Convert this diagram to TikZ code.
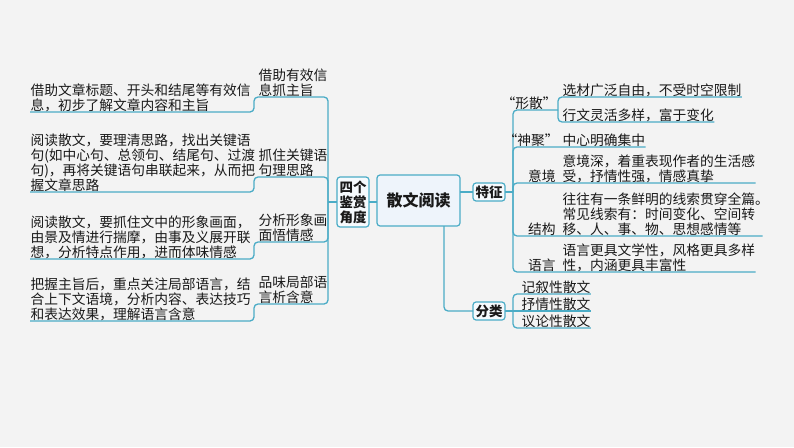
\documentclass[tikz,border=0pt]{standalone}
\usepackage{fontspec}
\setmainfont{Noto Sans CJK SC}
\usetikzlibrary{positioning}
\definecolor{teal4}{HTML}{4BACC6}
\definecolor{paper}{HTML}{F3F3F3}
\definecolor{boxblue}{HTML}{EEF4FB}

\begin{document}
\begin{tikzpicture}[x=1pt,y=-1pt]
	\tikzstyle{every node}=[font=\fontsize{13.75}{15}\selectfont, inner sep=0.5pt, outer sep=0pt, text=black!90]
	\tikzstyle{link}=[line width=1.3pt, draw=teal4, rounded corners=4pt]
	\tikzstyle{topic}=[draw=teal4, line width=1.2pt, rounded corners=3pt, fill=boxblue!50!white, inner sep=0pt, align=center, font=\fontsize{13.5}{15}\selectfont\bfseries]
	\tikzstyle{note}=[anchor=south west, align=left]
	\tikzstyle{tag}=[anchor=south east, align=right]
	\fill [paper] (0,0) rectangle (794,447);
	\useasboundingbox (0,0) rectangle (794,447);
	% centre and first level
	\node [topic, fill=boxblue, minimum width=83pt, minimum height=51pt, font=\fontsize{16}{18}\selectfont\bfseries] (sanwen) at (418.5,200.5) {散文阅读};
	\node [topic, minimum width=32pt, minimum height=50pt] (jianshang) at (353,202) {四个\\鉴赏\\角度};
	\node [topic, minimum width=32pt, minimum height=18pt] (tezheng) at (489,192) {特征};
	\node [topic, minimum width=32pt, minimum height=18pt] (fenlei) at (489,311) {分类};
	\draw [link] (jianshang.east) -- (jianshang.east -| sanwen.west);
	\draw [link] (sanwen.east |- tezheng.west) -- (tezheng.west);
	\draw [link] ([xshift=25.5pt]sanwen.south) |- (fenlei.west);
	% left: four ways
	\coordinate (jl) at (328,202);
	\draw [link] (jl) -- (jianshang.west);
	\node [note] (lbl1) at (258,97) {借助有效信\\息抓主旨};
	\node [note] (txt1) at (30,112) {借助文章标题、开头和结尾等有效信\\息，初步了解文章内容和主旨};
	\node [note] (lbl2) at (258,177) {抓住关键语\\句理思路};
	\node [note] (txt2) at (30,192) {阅读散文，要理清思路，找出关键语\\句(如中心句、总领句、结尾句、过渡\\句)，再将关键语句串联起来，从而把\\握文章思路};
	\node [note] (lbl3) at (258,242) {分析形象画\\面悟情感};
	\node [note] (txt3) at (30,259) {阅读散文，要抓住文中的形象画面，\\由景及情进行揣摩，由事及义展开联\\想，分析特点作用，进而体味情感};
	\node [note] (lbl4) at (258,304) {品味局部语\\言析含意};
	\node [note] (txt4) at (30,321) {把握主旨后，重点关注局部语言，结\\合上下文语境，分析内容、表达技巧\\和表达效果，理解语言含意};
	\foreach \i in {1,2,3,4}
		\draw [link] (jl) |- ([xshift=-4pt]lbl\i.south west) |- (txt\i.south west);
	% right: features
	\coordinate (jr) at (513,192);
	\draw [link] (tezheng.east) -- (jr);
	\node [tag] (xingsan) at (557,110) {“形散”};
	\node [note] (xs1) at (562,97) {选材广泛自由，不受时空限制};
	\node [note] (xs2) at (562,122) {行文灵活多样，富于变化};
	\coordinate (xsj) at (558,110);
	\draw [link] (jr) |- (xsj);
	\draw [link] (xsj) |- (xs1.south east);
	\draw [link] (xsj) |- (xs2.south east);
	\node [tag] (shenju) at (559,147) {“神聚”};
	\node [note] (sj1) at (562,147) {中心明确集中};
	\node [tag] (yijing) at (556,183) {意境};
	\node [note] (yj1) at (562,183) {意境深，着重表现作者的生活感\\受，抒情性强，情感真挚};
	\node [tag] (jiegou) at (556,236) {结构};
	\node [note] (jg1) at (562,236) {往往有一条鲜明的线索贯穿全篇\makebox[7pt][l]{。}\\常见线索有：时间变化、空间转\\移、人、事、物、思想感情等};
	\node [tag] (yuyan) at (556,272) {语言};
	\node [note] (yy1) at (562,272) {语言更具文学性，风格更具多样\\性，内涵更具丰富性};
	\foreach \n in {sj1,yj1,jg1,yy1}
		\draw [link] (jr) |- (\n.south east);
	% right: kinds
	\coordinate (jf) at (513,311);
	\node [note] (jx) at (521,294) {记叙性散文};
	\node [note] (sq) at (521,311) {抒情性散文};
	\node [note] (yl) at (521,328) {议论性散文};
	\draw [link] (fenlei.east) -- (sq.south east);
	\draw [link] (jf) |- (jx.south east);
	\draw [link] (jf) |- (yl.south east);
\end{tikzpicture}
\end{document}
